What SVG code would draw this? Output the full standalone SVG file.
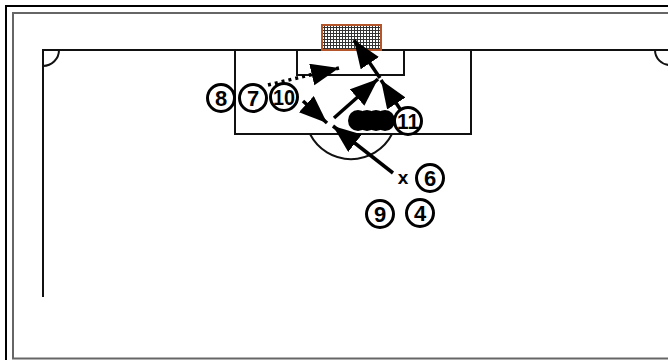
<svg xmlns="http://www.w3.org/2000/svg" width="668" height="360" viewBox="0 0 668 360">
<style>
.frame{fill:none;stroke:#000;stroke-width:2}
.frame2{fill:none;stroke:#666;stroke-width:2}
.ln{fill:none;stroke:#111;stroke-width:2}
.arr{fill:none;stroke:#000;stroke-width:3.5}
.dot{fill:none;stroke:#000;stroke-width:3.5;stroke-dasharray:3 4}
.pc{fill:#fff;stroke:#000;stroke-width:3}
.pt{font-family:"Liberation Sans",Arial,sans-serif;font-weight:bold;font-size:22px;text-anchor:middle;fill:#000}
</style>
<defs>
<pattern id="net" width="3" height="3" patternUnits="userSpaceOnUse">
<rect width="3" height="3" fill="#fff"/>
<path d="M0,0.5H3M0.5,0V3" stroke="#333" stroke-width="1"/>
</pattern>
<marker id="ah" markerUnits="userSpaceOnUse" markerWidth="30" markerHeight="24" refX="28" refY="11" orient="auto">
<path d="M0,0 L28,11 L0,22 z" fill="#000"/>
</marker>
</defs>
<rect class="frame" x="6" y="6" width="700" height="400"/>
<rect class="frame2" x="13" y="13" width="700" height="345.5"/>
<g id="field">
<path class="ln" d="M43,297 V50 H680"/>
<path class="ln" d="M43,66 A16,16 0 0 0 59,50"/>
<path class="ln" d="M655,50 A15,15 0 0 0 670,65"/>
<path class="ln" d="M235,50 V134 H471 V50"/>
<path class="ln" d="M297,50 V75 H404 V50"/>
<path class="ln" d="M310,134 A46,46 0 0 0 392,134"/>
</g>
<g id="goal">
<rect x="322" y="25" width="59" height="25" fill="url(#net)" stroke="#b5562a" stroke-width="2"/>
</g>
<g id="wall">
<ellipse cx="358" cy="120.5" rx="10" ry="10.5" fill="#000"/>
<ellipse cx="367" cy="120.5" rx="10" ry="10.5" fill="#000"/>
<ellipse cx="376" cy="120.5" rx="10" ry="10.5" fill="#000"/>
<ellipse cx="385" cy="120.5" rx="10" ry="10.5" fill="#000"/>
</g>
<g id="connectors">
<line class="arr" x1="393" y1="173" x2="333" y2="126" marker-end="url(#ah)"/>
<line class="arr" x1="303" y1="101" x2="327" y2="123" marker-end="url(#ah)"/>
<line class="dot" x1="268" y1="85" x2="339" y2="68" marker-end="url(#ah)"/>
<line class="arr" x1="334" y1="118" x2="378" y2="79" marker-end="url(#ah)"/>
<line class="arr" x1="400" y1="109" x2="381" y2="80" marker-end="url(#ah)"/>
<line class="arr" x1="380" y1="78" x2="354" y2="40" marker-end="url(#ah)"/>
</g>
<g id="p8"><circle class="pc" cx="221" cy="98" r="13.5"/><text class="pt" x="221" y="106">8</text></g>
<g id="p7"><circle class="pc" cx="253" cy="98" r="13.5"/><text class="pt" x="253" y="106">7</text></g>
<g id="p10"><circle class="pc" cx="284" cy="97" r="13.5"/><text class="pt" x="284" y="105" textLength="22" lengthAdjust="spacingAndGlyphs">10</text></g>
<g id="p11"><circle class="pc" cx="408" cy="121" r="13.5"/><text class="pt" x="408" y="129" textLength="22" lengthAdjust="spacingAndGlyphs">11</text></g>
<g id="p6"><circle class="pc" cx="430" cy="178" r="13.5"/><text class="pt" x="430" y="186">6</text></g>
<g id="p9"><circle class="pc" cx="380" cy="214" r="13.5"/><text class="pt" x="380" y="222">9</text></g>
<g id="p4"><circle class="pc" cx="420" cy="213" r="13.5"/><text class="pt" x="420" y="221">4</text></g>
<g id="xmark"><text class="pt" x="403" y="184" style="font-size:19px">x</text></g>
</svg>
